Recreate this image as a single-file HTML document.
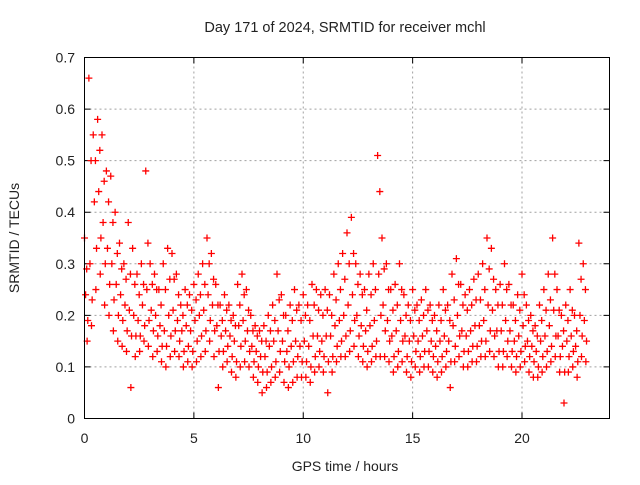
<!DOCTYPE html>
<html><head><meta charset="utf-8"><style>
body{margin:0;background:#fff}
svg text{font-family:"Liberation Sans",sans-serif;font-size:14px;fill:#222}
</style></head><body>
<svg id="chart" width="640" height="480" viewBox="0 0 640 480" xmlns="http://www.w3.org/2000/svg">
<rect width="640" height="480" fill="#fff"/>
<text x="345" y="32" text-anchor="middle" style="font-size:14.5px">Day 171 of 2024, SRMTID for receiver mchl</text>
<text x="345" y="471" text-anchor="middle">GPS time / hours</text>
<text x="19" y="238" text-anchor="middle" transform="rotate(-90 19 238)">SRMTID / TECUs</text>
<g id="grid"></g>
<g id="ticks"></g>
<g id="marks"></g>
<rect x="84.5" y="57.5" width="525" height="361" fill="none" stroke="#000" stroke-width="1"/>
</svg>
<script>
const xTicks=[0,5,10,15,20];
const yTicks=[0,0.1,0.2,0.3,0.4,0.5,0.6,0.7];
const yTickLabels=["0","0.1","0.2","0.3","0.4","0.5","0.6","0.7"];
const timeStep=0.2;
const hiVals=[0.35,0.66,0.55,0.58,0.55,0.48,0.47,0.40,0.34,0.30,0.38,0.33,0.28,0.30,0.48,0.30,0.28,0.25,0.30,0.33,0.32,0.28,0.22,0.25,0.24,0.26,0.28,0.30,0.35,0.32,0.26,0.22,0.24,0.22,0.20,0.26,0.28,0.25,0.20,0.18,0.17,0.18,0.20,0.22,0.28,0.24,0.20,0.22,0.25,0.22,0.24,0.22,0.26,0.25,0.24,0.25,0.24,0.28,0.30,0.32,0.36,0.39,0.30,0.28,0.25,0.28,0.30,0.51,0.35,0.30,0.25,0.26,0.30,0.24,0.22,0.25,0.22,0.23,0.25,0.22,0.20,0.22,0.25,0.22,0.28,0.31,0.26,0.24,0.25,0.27,0.28,0.30,0.35,0.33,0.25,0.26,0.30,0.26,0.22,0.24,0.28,0.22,0.20,0.18,0.22,0.25,0.28,0.35,0.25,0.20,0.22,0.25,0.20,0.34,0.30];
const q1Vals=[0.29,0.50,0.50,0.52,0.46,0.42,0.38,0.32,0.29,0.27,0.28,0.26,0.24,0.26,0.34,0.26,0.25,0.22,0.25,0.27,0.27,0.24,0.20,0.22,0.21,0.23,0.24,0.26,0.30,0.27,0.22,0.19,0.21,0.19,0.18,0.22,0.24,0.21,0.17,0.16,0.15,0.15,0.17,0.19,0.23,0.20,0.17,0.19,0.21,0.19,0.20,0.19,0.22,0.21,0.20,0.21,0.20,0.23,0.25,0.27,0.30,0.32,0.26,0.24,0.21,0.24,0.25,0.44,0.29,0.25,0.21,0.22,0.25,0.20,0.19,0.21,0.19,0.20,0.21,0.19,0.17,0.19,0.21,0.19,0.23,0.26,0.22,0.21,0.22,0.23,0.23,0.25,0.29,0.27,0.22,0.22,0.25,0.22,0.19,0.21,0.24,0.19,0.17,0.16,0.19,0.21,0.23,0.28,0.21,0.17,0.19,0.21,0.17,0.27,0.25];
const midVals=[0.24,0.30,0.42,0.44,0.38,0.33,0.30,0.26,0.24,0.22,0.21,0.20,0.19,0.22,0.25,0.21,0.20,0.18,0.17,0.20,0.21,0.19,0.17,0.18,0.17,0.19,0.20,0.21,0.24,0.22,0.18,0.16,0.17,0.16,0.15,0.18,0.19,0.17,0.14,0.13,0.12,0.12,0.14,0.15,0.17,0.15,0.13,0.14,0.15,0.14,0.15,0.14,0.16,0.16,0.15,0.16,0.16,0.18,0.19,0.20,0.22,0.24,0.20,0.18,0.17,0.18,0.19,0.28,0.22,0.19,0.16,0.17,0.19,0.16,0.15,0.16,0.15,0.16,0.17,0.15,0.14,0.15,0.16,0.15,0.18,0.20,0.17,0.16,0.17,0.18,0.18,0.19,0.22,0.21,0.17,0.17,0.19,0.17,0.15,0.16,0.18,0.15,0.14,0.13,0.15,0.16,0.18,0.21,0.16,0.14,0.15,0.16,0.14,0.20,0.19];
const q3Vals=[0.19,0.23,0.33,0.35,0.30,0.26,0.23,0.20,0.19,0.17,0.16,0.16,0.16,0.18,0.19,0.17,0.16,0.14,0.14,0.16,0.17,0.15,0.13,0.14,0.13,0.15,0.16,0.17,0.19,0.17,0.13,0.13,0.14,0.12,0.11,0.14,0.15,0.13,0.11,0.10,0.09,0.09,0.10,0.11,0.13,0.11,0.10,0.11,0.12,0.11,0.11,0.10,0.12,0.13,0.12,0.11,0.12,0.14,0.15,0.16,0.17,0.19,0.16,0.14,0.13,0.14,0.15,0.20,0.17,0.15,0.12,0.13,0.15,0.12,0.11,0.13,0.12,0.13,0.13,0.12,0.11,0.12,0.13,0.11,0.14,0.16,0.13,0.13,0.14,0.14,0.15,0.15,0.17,0.16,0.13,0.13,0.15,0.13,0.12,0.13,0.14,0.12,0.11,0.10,0.12,0.13,0.14,0.16,0.12,0.09,0.12,0.13,0.11,0.16,0.15];
const loVals=[0.15,0.18,0.25,0.28,0.22,0.20,0.17,0.15,0.14,0.13,0.06,0.12,0.13,0.15,0.14,0.12,0.13,0.11,0.10,0.12,0.13,0.12,0.10,0.11,0.10,0.11,0.12,0.13,0.15,0.12,0.06,0.10,0.11,0.09,0.08,0.10,0.11,0.10,0.08,0.07,0.05,0.06,0.07,0.08,0.09,0.07,0.06,0.07,0.08,0.08,0.08,0.07,0.09,0.10,0.09,0.05,0.09,0.11,0.12,0.12,0.13,0.14,0.12,0.11,0.10,0.11,0.12,0.12,0.12,0.11,0.09,0.10,0.11,0.09,0.08,0.10,0.09,0.10,0.10,0.09,0.08,0.09,0.10,0.06,0.11,0.12,0.10,0.10,0.11,0.11,0.12,0.12,0.13,0.12,0.10,0.10,0.12,0.10,0.09,0.10,0.11,0.09,0.08,0.08,0.09,0.10,0.11,0.12,0.09,0.03,0.09,0.10,0.08,0.12,0.11];
const X0=84.5,X1=609.5,Y0=418.5,Y1=57.5,XMAX=24,YMAX=0.7;
function xs(v){return X0+(X1-X0)*v/XMAX;}
function ys(v){return Y0-(Y0-Y1)*v/YMAX;}
const NS="http://www.w3.org/2000/svg";
const grid=document.getElementById('grid'),ticks=document.getElementById('ticks'),marks=document.getElementById('marks');
function mk(tag,attrs,parent){const e=document.createElementNS(NS,tag);for(const k in attrs)e.setAttribute(k,attrs[k]);parent.appendChild(e);return e;}
xTicks.forEach(t=>{const x=xs(t);
 if(t>0){const g=mk('line',{x1:x,y1:Y0,x2:x,y2:Y1,stroke:'#a0a0a0','stroke-dasharray':'2,3'},grid);
 }
 const l=mk('path',{d:`M${x},${Y0}v-6M${x},${Y1}v6`,stroke:'#000'},ticks);
 
 const tx=mk('text',{x:x,y:443,'text-anchor':'middle'},ticks);tx.textContent=t;
 });
yTicks.forEach((t,i)=>{const y=ys(t);
 if(i>0&&i<yTicks.length-1){const g=mk('line',{x1:X0,y1:y,x2:X1,y2:y,stroke:'#a0a0a0','stroke-dasharray':'2,3'},grid);
 }
 const l=mk('path',{d:`M${X0},${y}h6M${X1},${y}h-6`,stroke:'#000'},ticks);
 
 const tx=mk('text',{x:75,y:y+5,'text-anchor':'end'},ticks);tx.textContent=yTickLabels[i];
 });
let d='';
[[hiVals,0],[q1Vals,0.1],[midVals,0.05],[q3Vals,0.15],[loVals,0.12]].forEach(([arr,off])=>{arr.forEach((v,i)=>{const x=xs(i*timeStep+off),y=ys(v);d+=`M${x-3.5},${y}h7M${x},${y-3.5}v7`;});});
const p=mk('path',{d:d,stroke:'#ff0000','stroke-width':1.3,fill:'none'},marks);


</script>
</body></html>
